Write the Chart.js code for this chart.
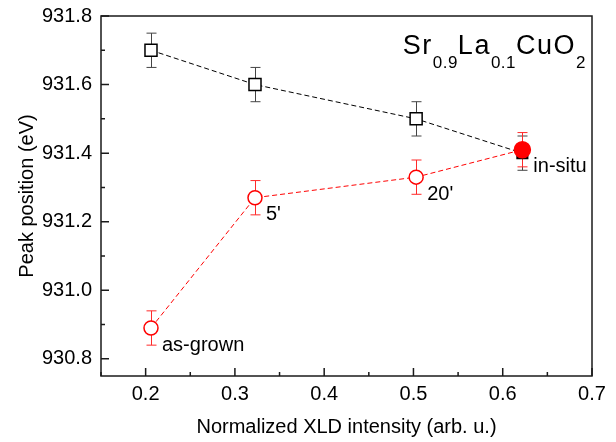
<!DOCTYPE html>
<html>
<head>
<meta charset="utf-8">
<script src="https://cdn.jsdelivr.net/npm/chart.js@4.4.1/dist/chart.umd.min.js"></script>
<style>
  html, body { margin: 0; padding: 0; background: #fff; }
  canvas { display: block; }
</style>
</head>
<body>
<canvas id="myCanvas" width="616" height="442"></canvas>
<script>
'use strict';

// same XLD intensity for both series
const xldValues = [0.206, 0.3225, 0.503, 0.622];
const peakSquares = [931.70, 931.60, 931.50, 931.40];
const peakCircles = [930.89, 931.27, 931.33, 931.41];
const errSquares = [0.05, 0.05, 0.05, 0.05];
const errCircles = [0.05, 0.05, 0.05, 0.05];
const sampleLabels = ['as-grown', '5\'', '20\'', 'in-situ'];

// all tick marks, and the ones that get a label
const xTicks = [0.15, 0.2, 0.25, 0.3, 0.35, 0.4, 0.45, 0.5, 0.55, 0.6, 0.65, 0.7];
const xMajorTicks = [0.2, 0.3, 0.4, 0.5, 0.6, 0.7];
const yTicks = [930.8, 930.9, 931.0, 931.1, 931.2, 931.3, 931.4, 931.5, 931.6, 931.7, 931.8];
const yMajorTicks = [930.8, 931.0, 931.2, 931.4, 931.6, 931.8];

const FONT = "'Liberation Sans', Arial, sans-serif";

function isMajor(value, list) {
  return list.some(v => Math.abs(v - value) < 1e-6);
}

function toPoints(xs, ys) {
  return xs.map((x, i) => ({ x: x, y: ys[i] }));
}

// vertical error bars, drawn under the markers
const errorBars = {
  id: 'errorBars',
  beforeDatasetsDraw(chart) {
    const { ctx, scales: { x, y } } = chart;
    const sets = [
      { ys: peakSquares, err: errSquares, color: '#444' },
      { ys: peakCircles, err: errCircles, color: '#ff2a2a' }
    ];
    ctx.save();
    ctx.lineWidth = 1;
    sets.forEach(s => {
      ctx.strokeStyle = s.color;
      ctx.beginPath();
      for (let i = 0; i < xldValues.length; i++) {
        const px = Math.round(x.getPixelForValue(xldValues[i])) + 0.5;
        const top = y.getPixelForValue(s.ys[i] + s.err[i]);
        const bot = y.getPixelForValue(s.ys[i] - s.err[i]);
        ctx.moveTo(px, top); ctx.lineTo(px, bot);
        ctx.moveTo(px - 5, top); ctx.lineTo(px + 5, top);
        ctx.moveTo(px - 5, bot); ctx.lineTo(px + 5, bot);
      }
      ctx.stroke();
    });
    ctx.restore();
  }
};

// box frame with inward ticks
const frameTicks = {
  id: 'frameTicks',
  afterDatasetsDraw(chart) {
    const { ctx, chartArea: a, scales: { x, y } } = chart;
    ctx.save();
    ctx.strokeStyle = '#1a1a1a';
    ctx.lineWidth = 1.5;
    ctx.strokeRect(a.left, a.top, a.right - a.left, a.bottom - a.top);
    ctx.beginPath();
    x.ticks.forEach(t => {
      const px = x.getPixelForValue(t.value);
      const len = isMajor(t.value, xMajorTicks) ? 8 : 4;
      ctx.moveTo(px, a.bottom);
      ctx.lineTo(px, a.bottom - len);
    });
    y.ticks.forEach(t => {
      const py = y.getPixelForValue(t.value);
      const len = isMajor(t.value, yMajorTicks) ? 8 : 4;
      ctx.moveTo(a.left, py);
      ctx.lineTo(a.left + len, py);
    });
    ctx.stroke();
    ctx.restore();
  }
};

const pointNames = {
  id: 'pointNames',
  afterDatasetsDraw(chart) {
    const { ctx, scales: { x, y } } = chart;
    ctx.save();
    ctx.font = '20px ' + FONT;
    ctx.fillStyle = '#000';
    ctx.textBaseline = 'alphabetic';
    sampleLabels.forEach((txt, i) => {
      const px = x.getPixelForValue(xldValues[i]);
      const py = y.getPixelForValue(peakCircles[i]);
      ctx.fillText(txt, px + 11, py + 22.5);
    });
    ctx.restore();
  }
};

// Sr0.9La0.1CuO2 with subscripts
const formula = {
  id: 'formula',
  afterDraw(chart) {
    const { ctx, chartArea: a } = chart;
    const parts = [
      ['Sr', false], ['0.9', true], ['La', false], ['0.1', true], ['CuO', false], ['2', true]
    ];
    const hasSpacing = 'letterSpacing' in ctx;
    function setPart(sub) {
      ctx.font = (sub ? '17px ' : '27px ') + FONT;
      if (hasSpacing) ctx.letterSpacing = sub ? '0.5px' : '1.5px';
    }
    ctx.save();
    ctx.fillStyle = '#000';
    ctx.textBaseline = 'alphabetic';
    let total = 0;
    parts.forEach(p => {
      setPart(p[1]);
      total += ctx.measureText(p[0]).width;
    });
    let cx = a.right - 6 - total;
    const base = a.top + 38;
    parts.forEach(p => {
      setPart(p[1]);
      ctx.fillText(p[0], cx, p[1] ? base + 14 : base);
      cx += ctx.measureText(p[0]).width;
    });
    ctx.restore();
  }
};

const data = {
  datasets: [{
    label: 'circles',
    data: toPoints(xldValues, peakCircles),
    showLine: true,
    borderColor: '#ff0000',
    borderWidth: 1,
    borderDash: [5, 3],
    pointStyle: 'circle',
    pointRadius: [7, 7, 7, 8],
    pointBorderWidth: 1.5,
    pointBorderColor: '#ff0000',
    pointBackgroundColor: ['#fff', '#fff', '#fff', '#ff0000']
  }, {
    label: 'squares',
    data: toPoints(xldValues, peakSquares),
    showLine: true,
    borderColor: '#000',
    borderWidth: 1,
    borderDash: [5, 3],
    pointStyle: 'rect',
    pointRadius: [8.5, 8.5, 8.5, 7.5],
    pointBorderWidth: 1.5,
    pointBorderColor: '#000',
    pointBackgroundColor: ['#fff', '#fff', '#fff', '#000']
  }]
};

const config = {
  type: 'scatter',
  data: data,
  options: {
    responsive: false,
    animation: false,
    events: [],
    layout: { padding: { top: 16, right: 24, bottom: 0, left: 0 } },
    plugins: {
      legend: { display: false },
      tooltip: { enabled: false }
    },
    scales: {
      x: {
        type: 'linear',
        min: 0.15,
        max: 0.7,
        afterBuildTicks(scale) { scale.ticks = xTicks.map(v => ({ value: v })); },
        afterFit(scale) {
          scale.height = 66;
          scale.paddingLeft = 0;
          scale.paddingRight = 0;
        },
        grid: { display: false, drawTicks: false },
        border: { display: false },
        ticks: {
          autoSkip: false,
          maxRotation: 0,
          padding: 6,
          color: '#000',
          font: { family: FONT, size: 20 },
          callback: v => isMajor(v, xMajorTicks) ? v.toFixed(1) : ''
        },
        title: {
          display: true,
          text: 'Normalized XLD intensity (arb. u.)',
          color: '#000',
          font: { family: FONT, size: 20 },
          padding: { top: 0, bottom: 3 }
        }
      },
      y: {
        type: 'linear',
        min: 930.75,
        max: 931.8,
        afterBuildTicks(scale) { scale.ticks = yTicks.map(v => ({ value: v })); },
        afterFit(scale) {
          scale.width = 101;
          scale.paddingTop = 0;
          scale.paddingBottom = 0;
        },
        grid: { display: false, drawTicks: false },
        border: { display: false },
        ticks: {
          autoSkip: false,
          padding: 9,
          color: '#000',
          font: { family: FONT, size: 20 },
          callback: v => isMajor(v, yMajorTicks) ? v.toFixed(1) : ''
        },
        title: {
          display: true,
          text: 'Peak position (eV)',
          color: '#000',
          font: { family: FONT, size: 20 },
          padding: { top: 15, bottom: 0 }
        }
      }
    }
  },
  plugins: [errorBars, frameTicks, pointNames, formula]
};

const chart = document.getElementById('myCanvas');
const myChart = new Chart(chart, config);
</script>
</body>
</html>
